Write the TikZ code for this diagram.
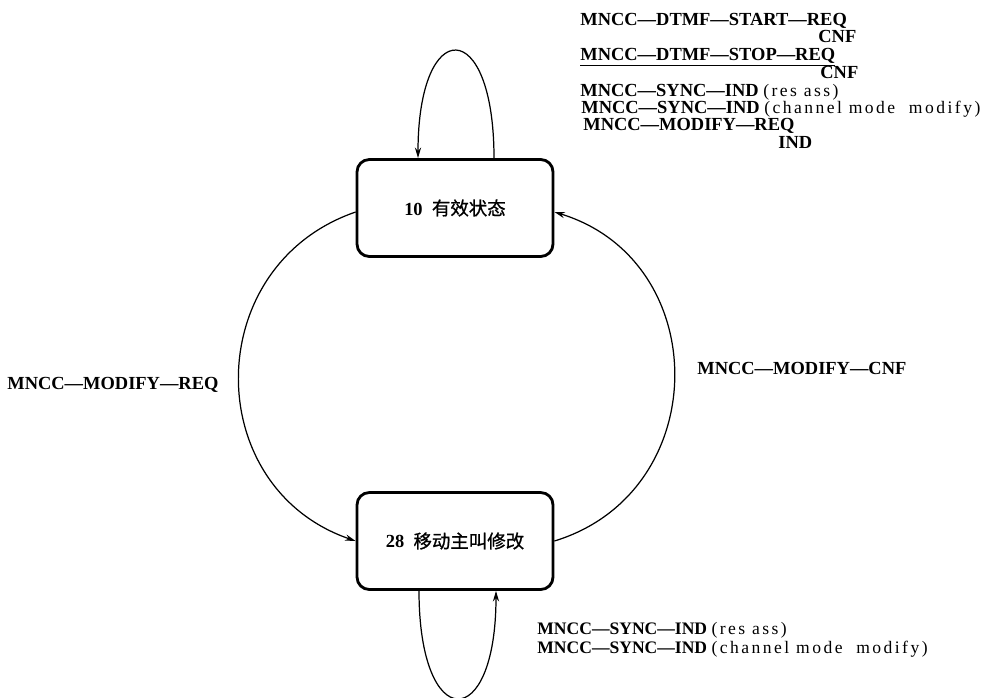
\documentclass[tikz,border=0pt]{standalone}
\usepackage{fontspec}
\setmainfont{Liberation Serif}
\newfontfamily\cjk[FakeBold=1]{Noto Sans CJK SC}
\newfontfamily\spacedfont[LetterSpace=14]{Liberation Serif}
\usetikzlibrary{arrows.meta}
\newcommand{\subinfo}[1]{{\spacedfont\mdseries\fontsize{10}{11}\selectfont #1}}

\begin{document}
\begin{tikzpicture}[
  x=0.02cm, y=-0.02cm,
  >={Stealth[length=6pt,width=3.5pt]},
  every node/.style={font=\fontsize{10.5}{12}\selectfont},
  statebox/.style={draw,line width=1.6pt,rounded corners=7pt,
    minimum width=3.92cm,minimum height=1.94cm,inner sep=0pt},
  msg/.style={anchor=base west,inner sep=0pt,font=\fontsize{10.5}{12}\selectfont\bfseries},
  link/.style={line width=0.7pt}
]
\useasboundingbox (0,0) rectangle (993,697);
\node[statebox] (idle) at (455,208) {\textbf{10}\ \ {\cjk 有效状态}};
\node[statebox] (modify) at (455,541) {\textbf{28}\ \ {\cjk 移动主叫修改}};
% transitions between the two states
\draw[link,->] ([yshift=-0.08cm]idle.west) to[out=199,in=161,looseness=1.28] (modify.west);
\draw[link,->] (modify.east) to[out=17,in=-17,looseness=1.3] ([yshift=-0.08cm]idle.east);
% self loops
\draw[link,->] ([xshift=0.78cm]idle.north) .. controls +(0,-143) and +(0,-143) .. ([xshift=-0.74cm]idle.north);
\draw[link,->] ([xshift=-0.72cm]modify.south) .. controls +(0,143) and +(0,143) .. ([xshift=0.82cm]modify.south);
% messages
\foreach \x/\y/\t [count=\i] in {
  580/25/MNCC—DTMF—START—REQ,
  818/42/CNF,
  580/60/\underline{MNCC—DTMF—STOP—REQ},
  820/78/CNF,
  580/96/MNCC—SYNC—IND \subinfo{(res ass)},
  581/113/MNCC—SYNC—IND \subinfo{(channel mode\ \ modify)},
  583/130/MNCC—MODIFY—REQ,
  778/148/IND} {
  \node[msg] (idlemsg\i) at (\x,\y) {\t};
}
\node[msg] (modreq) at (7,389) {MNCC—MODIFY—REQ};
\node[msg] (modcnf) at (697,374) {MNCC—MODIFY—CNF};
\node[msg,font=\fontsize{10}{11}\selectfont\bfseries] (syncres) at (537,634) {MNCC—SYNC—IND \subinfo{(res ass)}};
\node[msg,font=\fontsize{10}{11}\selectfont\bfseries] (syncmode) at (537,653) {MNCC—SYNC—IND \subinfo{(channel mode\ \ modify)}};
\end{tikzpicture}
\end{document}
